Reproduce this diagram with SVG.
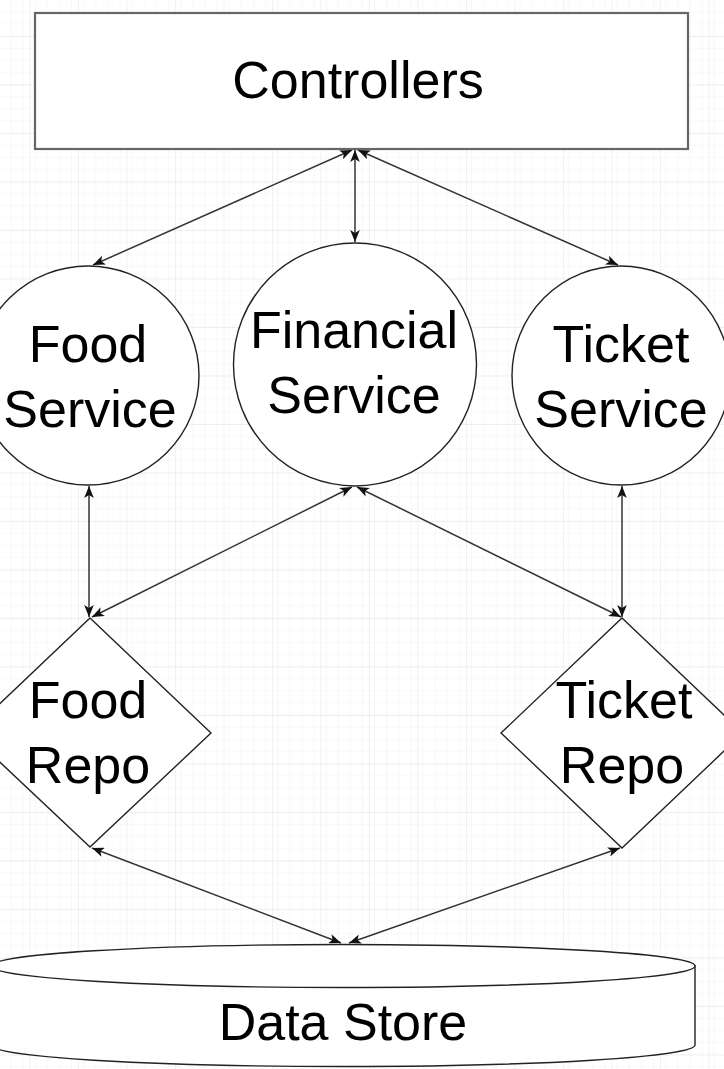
<svg xmlns="http://www.w3.org/2000/svg" width="724" height="1069" viewBox="0 0 724 1069">
  <style>
    .shape { fill: #ffffff; stroke: #222222; stroke-width: 1.4; }
    .rect { fill: #ffffff; stroke: #666666; stroke-width: 2.2; }
    .label { font-family: "Liberation Sans", Arial, sans-serif; font-size: 52px; fill: #000000; text-anchor: middle; }
    .conn { fill: none; stroke: #333333; stroke-width: 1.5; marker-start: url(#arrow); marker-end: url(#arrow); }
  </style>
  <defs>
    <pattern id="minor" x="29.5" y="36" width="12.125" height="12.125" patternUnits="userSpaceOnUse">
      <path d="M0,0 H12.125 M0,0 V12.125" fill="none" stroke="#f1f1f1" stroke-width="1"/>
    </pattern>
    <pattern id="major" x="29.5" y="36" width="48.5" height="48.5" patternUnits="userSpaceOnUse">
      <rect width="48.5" height="48.5" fill="url(#minor)"/>
      <path d="M0,0 H48.5 M0,0 V48.5" fill="none" stroke="#e3e3e3" stroke-width="1"/>
    </pattern>
    <marker id="arrow" viewBox="0 0 10 8" refX="10" refY="4" markerWidth="12" markerHeight="9.6" markerUnits="userSpaceOnUse" orient="auto-start-reverse">
      <path d="M0,0 L10,4 L0,8 L2.5,4 z" fill="#111111"/>
    </marker>
  </defs>

  <rect width="724" height="1069" fill="#ffffff"/>
  <rect width="724" height="1069" fill="url(#major)"/>

  <g id="connectors">
    <line class="conn" x1="352" y1="150" x2="93" y2="265"/>
    <line class="conn" x1="355" y1="150" x2="355" y2="242"/>
    <line class="conn" x1="358" y1="150" x2="618" y2="265"/>
    <line class="conn" x1="89" y1="486" x2="89" y2="617"/>
    <line class="conn" x1="352" y1="487" x2="92" y2="617"/>
    <line class="conn" x1="357" y1="487" x2="621" y2="617"/>
    <line class="conn" x1="622" y1="486" x2="622" y2="617"/>
    <line class="conn" x1="92" y1="848" x2="341" y2="943"/>
    <line class="conn" x1="620" y1="848" x2="349" y2="943"/>
  </g>

  <g id="controllers">
    <rect class="rect" x="35" y="13" width="653" height="136"/>
    <text class="label" x="358" y="98" font-size="53">Controllers</text>
  </g>

  <g id="food-service">
    <ellipse class="shape" cx="88" cy="375.5" rx="111" ry="109.5"/>
    <text class="label" x="88" y="362">Food</text>
    <text class="label" x="90" y="427">Service</text>
  </g>

  <g id="financial-service">
    <ellipse class="shape" cx="355" cy="364.5" rx="121.5" ry="121.5"/>
    <text class="label" x="354" y="348">Financial</text>
    <text class="label" x="354" y="413">Service</text>
  </g>

  <g id="ticket-service">
    <ellipse class="shape" cx="621" cy="375.5" rx="109" ry="109.5"/>
    <text class="label" x="621" y="362">Ticket</text>
    <text class="label" x="621" y="427">Service</text>
  </g>

  <g id="food-repo">
    <polygon class="shape" points="90,618 211,733 90,847 -31,733"/>
    <text class="label" x="88" y="718">Food</text>
    <text class="label" x="88" y="783">Repo</text>
  </g>

  <g id="ticket-repo">
    <polygon class="shape" points="622,618 743,733 622,848 501,733"/>
    <text class="label" x="624" y="718">Ticket</text>
    <text class="label" x="622" y="783">Repo</text>
  </g>

  <g id="data-store">
    <path class="shape" d="M-9,966 L-9,1045 A352,21.5 0 0 0 695,1045 L695,966 Z"/>
    <ellipse class="shape" cx="343" cy="966" rx="352" ry="21.5"/>
    <text class="label" x="343" y="1040" font-size="53">Data Store</text>
  </g>
</svg>
